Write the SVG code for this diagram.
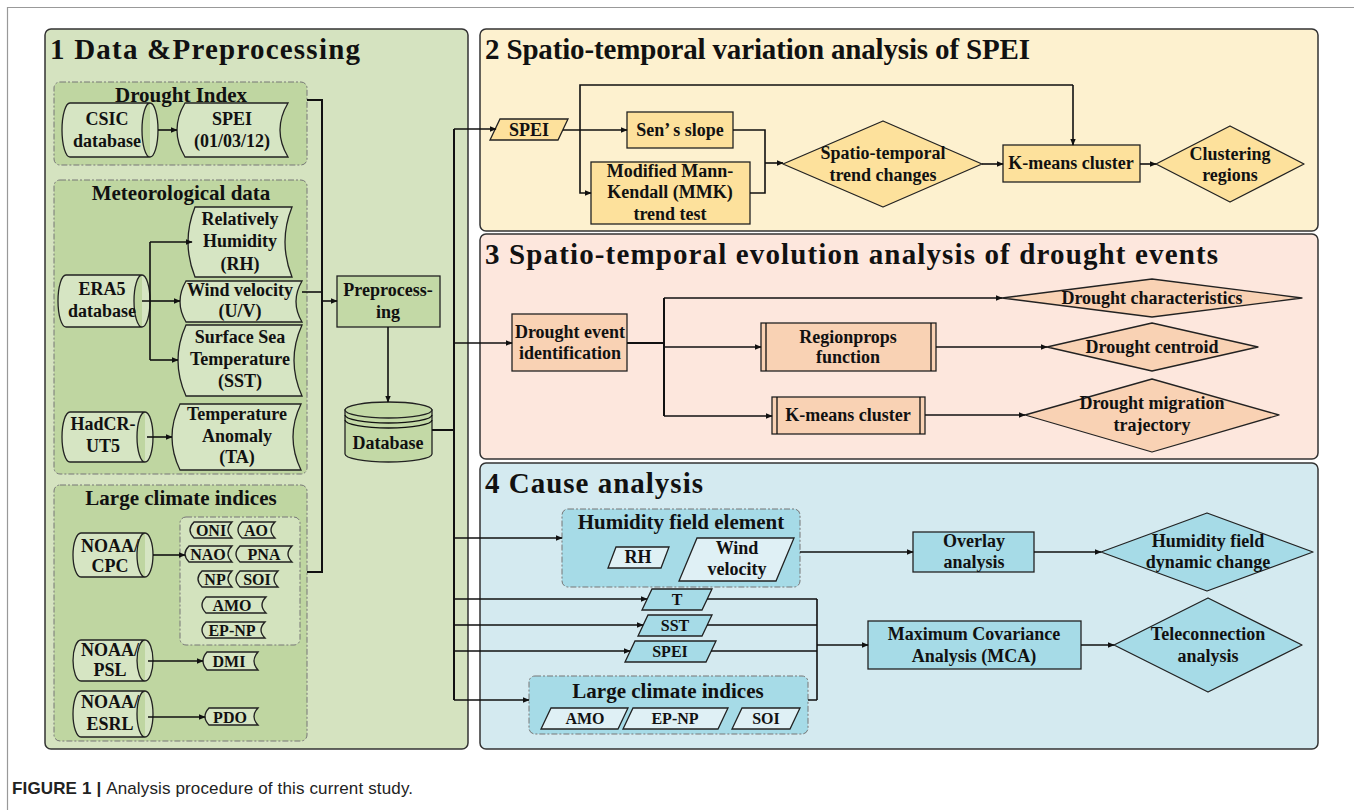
<svg xmlns="http://www.w3.org/2000/svg" width="1354" height="810" viewBox="0 0 1354 810">
<defs>
<marker id="ah" viewBox="0 0 10 10" refX="9" refY="5" markerWidth="7" markerHeight="7" markerUnits="userSpaceOnUse" orient="auto"><path d="M0,1 L10,5 L0,9 Z" fill="#111"/></marker>
<style>
.t{font-family:"Liberation Serif",serif;font-weight:bold;fill:#111;text-anchor:middle;font-size:18px}
.ts{font-size:16px}
.tg{font-size:21px}
.th{font-family:"Liberation Serif",serif;font-weight:bold;fill:#111;font-size:29px}
.panel{stroke:#333;stroke-width:1.5}
.grp{stroke:#777;stroke-width:1;stroke-dasharray:6 2 2 2}
.g1{fill:#bfd6a1}
.n1{fill:#d6e5c3;stroke:#222;stroke-width:1.3}
.n1d{fill:#c3d9a6;stroke:#222;stroke-width:1.3}
.n2{fill:#fde19c;stroke:#222;stroke-width:1.3}
.n3{fill:#f9d2b4;stroke:#222;stroke-width:1.3}
.n4{fill:#a6dbe7;stroke:#222;stroke-width:1.3}
.n4l{fill:#dff0f5;stroke:#222;stroke-width:1.3}
.c{fill:none;stroke:#111;stroke-width:1.6}
.ca{fill:none;stroke:#111;stroke-width:1.6;marker-end:url(#ah)}
.cap{font-family:"Liberation Sans",Arial,sans-serif;font-size:17px;fill:#222}
</style>
</defs>
<rect x="0" y="0" width="1354" height="810" fill="#fff"/>
<path d="M7.5,810 L7.5,7.5 L1354,7.5" fill="none" stroke="#999" stroke-width="1.2"/>

<!-- panels -->
<g id="panel1">
<rect class="panel" x="45" y="29" width="423" height="720" rx="6" fill="#d5e3c0"/>
<text class="th" x="50" y="59" textLength="310">1 Data &amp;Preprocessing</text>
</g>
<g id="panel2">
<rect class="panel" x="480" y="29" width="838" height="202" rx="6" fill="#fdf1cf"/>
<text class="th" x="485" y="59" textLength="545">2 Spatio-temporal variation analysis of SPEI</text>
</g>
<g id="panel3">
<rect class="panel" x="480" y="234" width="838" height="225" rx="6" fill="#fde7dd"/>
<text class="th" x="485" y="264" textLength="733">3 Spatio-temporal evolution analysis of drought events</text>
</g>
<g id="panel4">
<rect class="panel" x="480" y="463" width="838" height="286" rx="6" fill="#d4eaf0"/>
<text class="th" x="485" y="493" textLength="218">4 Cause analysis</text>
</g>

<!-- panel 1 groups -->
<g id="grp-drought-index">
<rect class="grp g1" x="54" y="82" width="253" height="83" rx="6"/>
<text class="t tg" x="181" y="102">Drought Index</text>
</g>
<g id="grp-meteo">
<rect class="grp g1" x="54" y="180" width="253" height="294" rx="6"/>
<text class="t tg" x="181" y="200">Meteorological data</text>
</g>
<g id="grp-large1">
<rect class="grp g1" x="54" y="485" width="253" height="256" rx="6"/>
<text class="t tg" x="181" y="505">Large climate indices</text>
<rect class="grp" x="180" y="517" width="120" height="128" rx="6" fill="#d3e3be"/>
</g>

<g id="csic">
<path class="n1" d="M70,103 L150,103 A8,27 0 0 1 150,157 L70,157 A8,27 0 0 1 70,103 Z M150,103 A8,27 0 0 0 150,157"/>
<text class="t" x="107" y="125">CSIC</text><text class="t" x="107" y="147">database</text>
</g>
<g id="spei1">
<path class="n1" d="M185,103 L288,103 Q272,130 288,157 L185,157 Q169,130 185,103 Z"/>
<text class="t" x="232" y="125">SPEI</text><text class="t" x="232" y="147">(01/03/12)</text>
</g>
<g id="rh1">
<path class="n1" d="M195,207 L292,207 Q278,242 292,277 L195,277 Q181,242 195,207 Z"/>
<text class="t" x="240" y="225">Relatively</text><text class="t" x="240" y="247">Humidity</text><text class="t" x="240" y="270">(RH)</text>
</g>
<g id="era5">
<path class="n1" d="M66,275 L142,275 A8,26 0 0 1 142,327 L66,327 A8,26 0 0 1 66,275 Z M142,275 A8,26 0 0 0 142,327"/>
<text class="t" x="102" y="295">ERA5</text><text class="t" x="102" y="317">database</text>
</g>
<g id="wind1">
<path class="n1" d="M186,281 L302,281 Q290,301.5 302,322 L186,322 Q174,301.5 186,281 Z"/>
<text class="t" x="240" y="296">Wind velocity</text><text class="t" x="240" y="317">(U/V)</text>
</g>
<g id="sst1">
<path class="n1" d="M186,325 L302,325 Q286,360.5 302,396 L186,396 Q170,360.5 186,325 Z"/>
<text class="t" x="240" y="343">Surface Sea</text><text class="t" x="240" y="365">Temperature</text><text class="t" x="240" y="387">(SST)</text>
</g>
<g id="hadcrut">
<path class="n1" d="M70,412 L145,412 A8,25 0 0 1 145,462 L70,462 A8,25 0 0 1 70,412 Z M145,412 A8,25 0 0 0 145,462"/>
<text class="t" x="103" y="430">HadCR-</text><text class="t" x="103" y="452">UT5</text>
</g>
<g id="ta1">
<path class="n1" d="M180,404 L301,404 Q285,437 301,470 L180,470 Q164,437 180,404 Z"/>
<text class="t" x="237" y="420">Temperature</text><text class="t" x="237" y="442">Anomaly</text><text class="t" x="237" y="463">(TA)</text>
</g>
<g id="noaa-cpc">
<path class="n1" d="M81,533 L145,533 A8,22 0 0 1 145,577 L81,577 A8,22 0 0 1 81,533 Z M145,533 A8,22 0 0 0 145,577"/>
<text class="t" x="110" y="552">NOAA/</text><text class="t" x="110" y="572">CPC</text>
</g>
<g id="oni"><path class="n1" d="M194,522 L232,522 Q224,530 232,538 L194,538 Q186,530 194,522 Z"/><text class="t ts" x="211" y="536">ONI</text></g>
<g id="ao"><path class="n1" d="M242,522 L275,522 Q267,530 275,538 L242,538 Q234,530 242,522 Z"/><text class="t ts" x="256" y="536">AO</text></g>
<g id="nao"><path class="n1" d="M189,546 L232,546 Q224,554 232,562 L189,562 Q181,554 189,546 Z"/><text class="t ts" x="208" y="560">NAO</text></g>
<g id="pna"><path class="n1" d="M240,546 L292,546 Q284,554 292,562 L240,562 Q232,554 240,546 Z"/><text class="t ts" x="264" y="560">PNA</text></g>
<g id="np"><path class="n1" d="M202,571 L232,571 Q224,579 232,587 L202,587 Q194,579 202,571 Z"/><text class="t ts" x="215" y="585">NP</text></g>
<g id="soi1"><path class="n1" d="M240,571 L278,571 Q270,579 278,587 L240,587 Q232,579 240,571 Z"/><text class="t ts" x="257" y="585">SOI</text></g>
<g id="amo1"><path class="n1" d="M206,597 L266,597 Q258,605 266,613 L206,613 Q198,605 206,597 Z"/><text class="t ts" x="232" y="611">AMO</text></g>
<g id="epnp1"><path class="n1" d="M206,622 L265,622 Q257,630 265,638 L206,638 Q198,630 206,622 Z"/><text class="t ts" x="232" y="636">EP-NP</text></g>
<g id="noaa-psl">
<path class="n1" d="M81,640 L145,640 A8,20.5 0 0 1 145,681 L81,681 A8,20.5 0 0 1 81,640 Z M145,640 A8,20.5 0 0 0 145,681"/>
<text class="t" x="110" y="656">NOAA/</text><text class="t" x="110" y="676">PSL</text>
</g>
<g id="dmi"><path class="n1" d="M207,652 L258,652 Q250,661 258,670 L207,670 Q199,661 207,652 Z"/><text class="t ts" x="229" y="667">DMI</text></g>
<g id="noaa-esrl">
<path class="n1" d="M81,691 L145,691 A8,23 0 0 1 145,737 L81,737 A8,23 0 0 1 81,691 Z M145,691 A8,23 0 0 0 145,737"/>
<text class="t" x="110" y="708">NOAA/</text><text class="t" x="110" y="730">ESRL</text>
</g>
<g id="pdo"><path class="n1" d="M209,708 L258,708 Q250,716.5 258,725 L209,725 Q201,716.5 209,708 Z"/><text class="t ts" x="230" y="723">PDO</text></g>

<g id="preprocessing">
<rect class="n1d" x="337" y="276" width="103" height="51"/>
<text class="t" x="388" y="296">Preprocess-</text><text class="t" x="388" y="318">ing</text>
</g>
<g id="database">
<path class="n1d" d="M345,410 L345,454 A43.5,8 0 0 0 432,454 L432,410 Z"/>
<ellipse class="n1d" cx="388.5" cy="410" rx="43.5" ry="8"/>
<path class="c" style="stroke-width:1.3" d="M345,415 A43.5,8 0 0 0 432,415 M345,420 A43.5,8 0 0 0 432,420"/>
<text class="t" x="388" y="449">Database</text>
</g>

<!-- panel 2 nodes -->
<g id="spei2"><polygon class="n2" points="500,119 568,119 558,140 490,140"/><text class="t" x="529" y="136">SPEI</text></g>
<g id="sens"><rect class="n2" x="627" y="112" width="106" height="36"/><text class="t" x="680" y="136">Sen’ s slope</text></g>
<g id="mmk"><rect class="n2" x="591" y="162" width="159" height="62"/>
<text class="t" x="670" y="177">Modified Mann-</text><text class="t" x="670" y="198">Kendall (MMK)</text><text class="t" x="670" y="220">trend test</text></g>
<g id="trend"><polygon class="n2" stroke-linejoin="round" points="783,164 883,121 982,164 883,207"/>
<text class="t" x="883" y="159">Spatio-temporal</text><text class="t" x="883" y="181">trend changes</text></g>
<g id="kmeans2"><rect class="n2" x="1003" y="145" width="137" height="37"/><text class="t" x="1071" y="169">K-means cluster</text></g>
<g id="clustering"><polygon class="n2" stroke-linejoin="round" points="1156,164 1230,126 1304,164 1230,202"/>
<text class="t" x="1230" y="160">Clustering</text><text class="t" x="1230" y="181">regions</text></g>

<!-- panel 3 nodes -->
<g id="event-id"><rect class="n3" x="512" y="314" width="115" height="57"/>
<text class="t" x="570" y="338">Drought event</text><text class="t" x="570" y="359">identification</text></g>
<g id="regionprops"><rect class="n3" x="761" y="323" width="175" height="48"/>
<path class="c" style="stroke-width:1.3" d="M766,323 V371 M931,323 V371"/>
<text class="t" x="848" y="343">Regionprops</text><text class="t" x="848" y="363">function</text></g>
<g id="kmeans3"><rect class="n3" x="772" y="397" width="153" height="37"/>
<path class="c" style="stroke-width:1.3" d="M777,397 V434 M920,397 V434"/>
<text class="t" x="848" y="421">K-means cluster</text></g>
<g id="characteristics"><polygon class="n3" stroke-linejoin="round" points="1002,298 1152,279 1302,298 1152,317"/>
<text class="t" x="1152" y="304">Drought characteristics</text></g>
<g id="centroid"><polygon class="n3" stroke-linejoin="round" points="1047,347 1152,323 1258,347 1152,371"/>
<text class="t" x="1152" y="353">Drought centroid</text></g>
<g id="migration"><polygon class="n3" stroke-linejoin="round" points="1025,415 1152,379 1279,415 1152,452"/>
<text class="t" x="1152" y="409">Drought migration</text><text class="t" x="1152" y="431">trajectory</text></g>

<!-- panel 4 nodes -->
<g id="humidity-group">
<rect class="grp n4" style="stroke:#777;stroke-width:1" x="562" y="509" width="238" height="78" rx="6"/>
<text class="t tg" x="681" y="529">Humidity field element</text>
<polygon class="n4l" points="616,547 669,547 661,568 608,568"/><text class="t" x="638" y="563">RH</text>
<polygon class="n4l" points="697,538 794,538 776,581 679,581"/><text class="t" x="737" y="554">Wind</text><text class="t" x="737" y="575">velocity</text>
</g>
<g id="overlay"><rect class="n4" x="913" y="532" width="121" height="40"/>
<text class="t" x="974" y="547">Overlay</text><text class="t" x="974" y="568">analysis</text></g>
<g id="humidity-change"><polygon class="n4" stroke-linejoin="round" points="1101,552 1207,513 1313,552 1207,591"/>
<text class="t" x="1208" y="547">Humidity field</text><text class="t" x="1208" y="568">dynamic change</text></g>
<g id="t4"><polygon class="n4" points="652,589 712,589 702,610 642,610"/><text class="t ts" x="677" y="605">T</text></g>
<g id="sst4"><polygon class="n4" points="648,615 712,615 702,636 638,636"/><text class="t ts" x="675" y="631">SST</text></g>
<g id="spei4"><polygon class="n4" points="635,641 716,641 706,662 625,662"/><text class="t ts" x="670" y="657">SPEI</text></g>
<g id="large-group4">
<rect class="grp n4" style="stroke:#777;stroke-width:1" x="529" y="676" width="279" height="58" rx="6"/>
<text class="t tg" x="668" y="698">Large climate indices</text>
<polygon class="n4l" points="551,708 628,708 618,729 541,729"/><text class="t ts" x="585" y="724">AMO</text>
<polygon class="n4l" points="633,708 728,708 718,729 623,729"/><text class="t ts" x="675" y="724">EP-NP</text>
<polygon class="n4l" points="742,708 800,708 790,729 732,729"/><text class="t ts" x="766" y="724">SOI</text>
</g>
<g id="mca"><rect class="n4" x="868" y="621" width="213" height="48"/>
<text class="t" x="974" y="640">Maximum Covariance</text><text class="t" x="974" y="662">Analysis (MCA)</text></g>
<g id="teleconnection"><polygon class="n4" stroke-linejoin="round" points="1114,645 1208,598 1302,645 1208,692"/>
<text class="t" x="1208" y="640">Teleconnection</text><text class="t" x="1208" y="662">analysis</text></g>

<!-- connectors -->
<g id="connectors">
<path class="ca" d="M158,130 H177"/>
<path class="c" d="M142,301 H150 M150,242 V360"/>
<path class="ca" d="M150,242 H192"/>
<path class="ca" d="M150,301 H180"/>
<path class="ca" d="M150,360 H178"/>
<path class="ca" d="M147,437 H172"/>
<path class="ca" d="M153,555 H185"/>
<path class="ca" d="M148,661 H203"/>
<path class="ca" d="M148,717 H205"/>
<path class="c" style="stroke-width:2" d="M307,100 H322 V572 H307"/>
<path class="c" d="M302,292 H322"/>
<path class="ca" d="M322,301 H337"/>
<path class="ca" d="M388,327 V402"/>
<path class="c" style="stroke-width:2" d="M432,430 H454 M454,129 V700"/>
<path class="ca" d="M454,129 H496"/>
<path class="ca" d="M454,343 H512"/>
<path class="ca" d="M454,538 H562"/>
<path class="ca" d="M454,599 H647"/>
<path class="ca" d="M454,625 H643"/>
<path class="ca" d="M454,651 H630"/>
<path class="ca" d="M454,700 H529"/>
<!-- panel 2 -->
<path class="ca" d="M563,130 H627"/>
<path class="c" d="M580,130 V85 H1073"/>
<path class="ca" d="M1073,85 V145"/>
<path class="ca" d="M580,130 V193 H591"/>
<path class="c" d="M733,130 H765 V193 H750"/>
<path class="ca" d="M765,163 H783"/>
<path class="ca" d="M982,164 H1003"/>
<path class="ca" d="M1140,164 H1156"/>
<!-- panel 3 -->
<path class="c" style="stroke-width:2" d="M627,343 H664 M664,298 V416"/>
<path class="ca" d="M664,298 H1002"/>
<path class="ca" d="M664,347 H761"/>
<path class="ca" d="M664,416 H772"/>
<path class="ca" d="M936,347 H1047"/>
<path class="ca" d="M925,415 H1025"/>
<!-- panel 4 -->
<path class="ca" d="M800,552 H913"/>
<path class="ca" d="M1034,552 H1101"/>
<path class="c" d="M707,599 H817 M707,625 H817 M711,651 H817 M808,700 H817 M817,599 V700"/>
<path class="ca" d="M817,645 H868"/>
<path class="ca" d="M1081,645 H1114"/>
</g>

<text class="cap" x="12" y="794" textLength="401"><tspan font-weight="bold">FIGURE 1 | </tspan>Analysis procedure of this current study.</text>
</svg>
